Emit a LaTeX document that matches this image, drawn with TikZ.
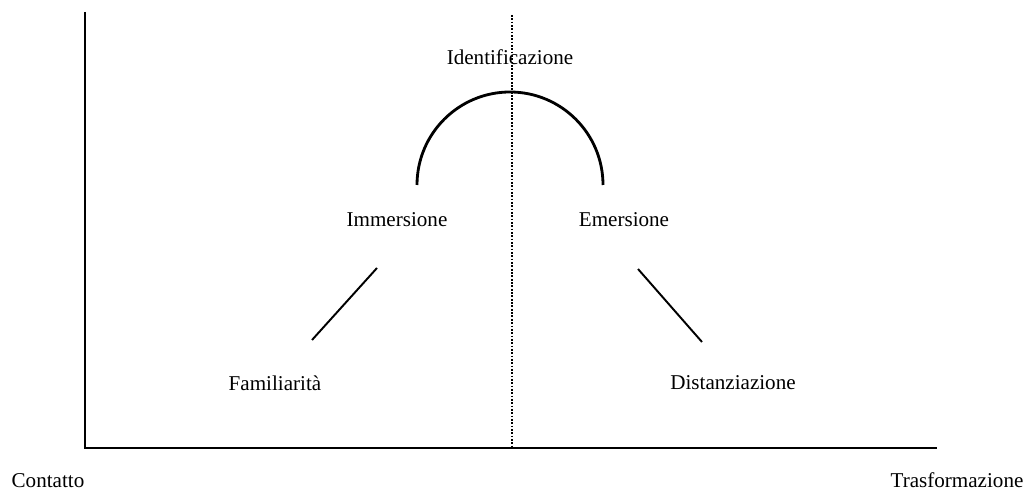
\documentclass[tikz,border=0pt]{standalone}
\usepackage{fontspec}
\setmainfont{Liberation Serif}
\usetikzlibrary{calc, positioning}

\begin{document}
\begin{tikzpicture}[font=\fontsize{12}{14}\selectfont]
\def\xmax{18.74}
\def\ymax{9.58}
\def\xmid{10.24}
\def\rarc{1.86}

\useasboundingbox (0,0) rectangle (20.56,9.82);

% axes
\coordinate (O) at (1.70,0.86);
\coordinate (xend) at (\xmax,0.86);
\coordinate (yend) at (1.70,\ymax);
\draw[line width=1.1pt] (yend) -- (O) -- (xend);

% dotted middle line
\coordinate (mtop) at (\xmid,9.52);
\coordinate (mbot) at (\xmid,0.86);
\draw[line width=0.9pt,dash pattern=on 1pt off 0.9pt] (mtop) -- (mbot);

% arc
\coordinate (arcL) at (8.34,6.12);
\draw[line width=1.6pt] (arcL) arc[start angle=180,end angle=0,radius=\rarc];

% labels
\node (ide) at (10.20,8.68) {Identificazione};
\node (imm) at (7.94,5.42) {Immersione};
\node (eme) at (12.48,5.42) {Emersione};
\node (fam) at (5.50,2.16) {Familiarità};
\node (dis) at (14.66,2.16) {Distanziazione};
\node[inner sep=0pt,anchor=base] (con) at (0.96,0.06) {Contatto};
\node[inner sep=0pt,anchor=base] (tra) at (19.14,0.06) {Trasformazione};

% slanted lines
\coordinate (fa) at (6.24,3.02);
\coordinate (im) at (7.54,4.46);
\coordinate (em) at (12.76,4.44);
\coordinate (di) at (14.04,2.98);
\draw[line width=1.1pt] (fa) -- (im);
\draw[line width=1.1pt] (em) -- (di);
\end{tikzpicture}
\end{document}
